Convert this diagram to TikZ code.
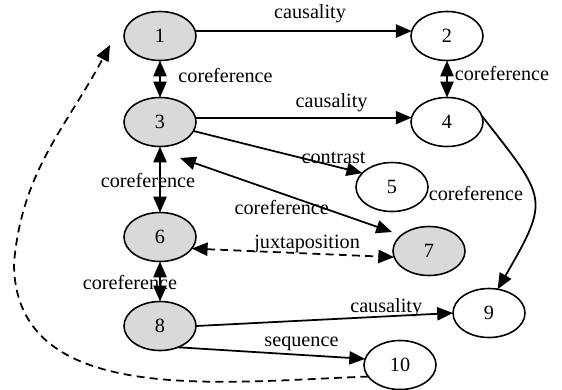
\documentclass[tikz,border=0pt]{standalone}
\usepackage{fontspec}
\setmainfont{Liberation Serif}
\usepackage{tkz-graph}
\usetikzlibrary{arrows.meta,shapes.geometric}

\tikzset{
	VertexStyle/.style = {draw, ellipse, line width=0.9pt, fill=white,
		minimum width=1.44cm, minimum height=0.98cm, inner sep=0pt,
		font=\fontsize{11.5}{13}\selectfont},
	rel/.style = {line width=1pt, ->},
	corel/.style = {line width=1pt, <->},
	juxt/.style = {corel, dash pattern=on 4.5pt off 3pt},
	lbl/.style = {font=\fontsize{11.5}{13}\selectfont, inner sep=1pt}
}

\begin{document}
\begin{tikzpicture}[>={Triangle[length=9pt,width=7.5pt]}]
	\useasboundingbox (0,0) rectangle (11.24,7.78);
	\begin{scope}[VertexStyle/.append style = {fill=gray!30}]
		\Vertex[x=3.20 ,y=7.06 ,L=1]{s1}
		\Vertex[x=3.20 ,y=5.34 ,L=3]{s3}
		\Vertex[x=3.20 ,y=3.04 ,L=6]{s6}
		\Vertex[x=8.58 ,y=2.76 ,L=7]{s7}
		\Vertex[x=3.20 ,y=1.26 ,L=8]{s8}
	\end{scope}
		\Vertex[x=8.94 ,y=7.06 ,L=2]{s2}
		\Vertex[x=8.94 ,y=5.34 ,L=4]{s4}
		\Vertex[x=7.84 ,y=4.04 ,L=5]{s5}
		\Vertex[x=9.78 ,y=1.52 ,L=9]{s9}
		\Vertex[x=8.00 ,y=0.48 ,L=10]{s10}
	\coordinate (bend) at (0.28,2.52);
	\coordinate (back) at (2.20,6.88);
	% causality and sequence
	\draw[rel] (s1.8) -- node[lbl, pos=0.53, above=3pt]{causality} (s2.172);
	\draw[rel] (s3.7) -- node[lbl, pos=0.63, above=2pt]{causality} (s4.173);
	\draw[rel] (s8.east) -- node[lbl, pos=0.74, above=-2pt]{causality} (s9.west);
	\draw[rel] (s8.-50) -- node[lbl, pos=0.66, above=1pt]{sequence} (s10.170);
	\draw[rel] (s3.-15) -- node[lbl, pos=0.83, above=0pt]{contrast} (s5.155);
	% coreference
	\draw[corel] (s1) -- node[lbl, pos=0.4, right=9pt]{coreference} (s3);
	\draw[corel] (s2) -- node[lbl, pos=0.35, right=3pt]{coreference} (s4);
	\draw[corel] (s3) -- node[lbl, pos=0.52, xshift=-0.24cm]{coreference} (s6);
	\draw[corel] (s6) -- node[lbl, pos=0.53, xshift=-0.6cm]{coreference} (s8);
	\draw[corel] ([shift={(0.4,-0.72)}]s3.center) -- node[lbl, pos=0.48, below=2.5pt]{coreference} ([shift={(-0.74,0.38)}]s7.center);
	\draw[rel] (s4.10) to[out=-52, in=60, looseness=1.55] node[lbl, pos=0.45, left=4pt]{coreference} (s9.70);
	% juxtaposition
	\draw[juxt] (s6.-20) -- node[lbl, pos=0.57, above=-1pt]{juxtaposition} (s7.190);
	\draw[rel, dash pattern=on 4.5pt off 3pt] (s10.200) to[out=182, in=-90] (bend) to[out=85, in=-118] (back);
\end{tikzpicture}
\end{document}
